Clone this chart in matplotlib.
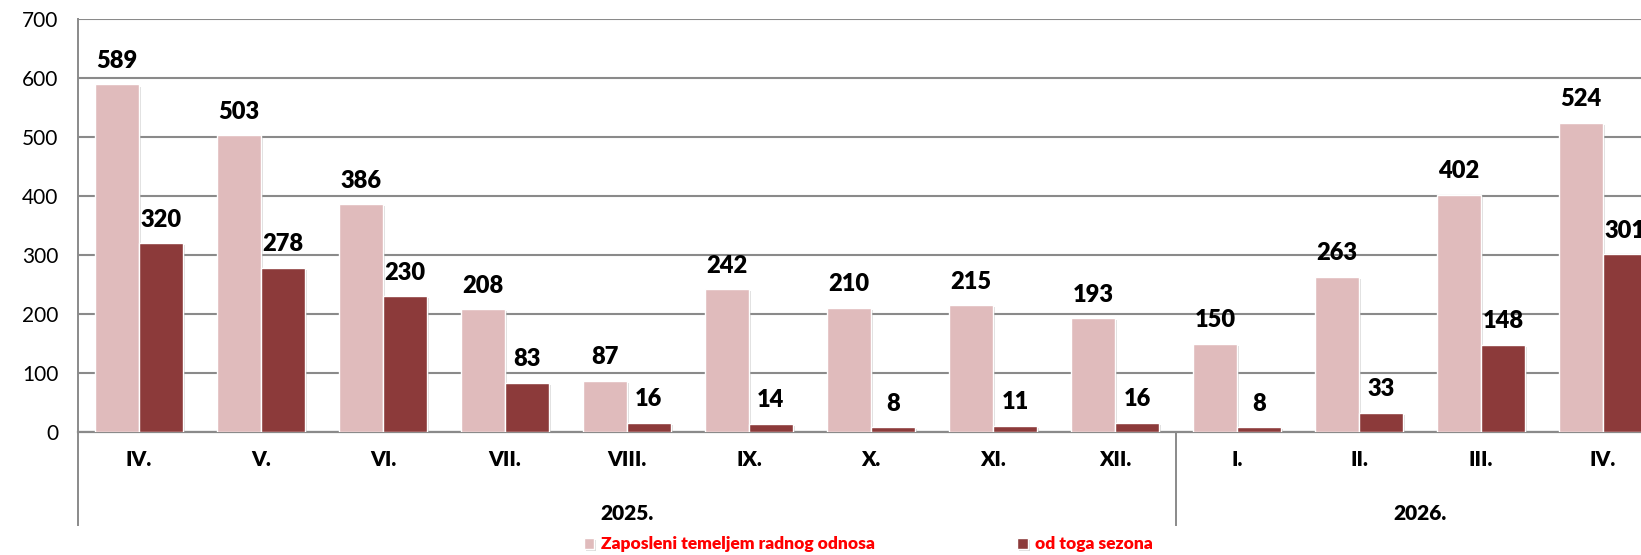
import numpy as np
import matplotlib
matplotlib.use('Agg')
import matplotlib.pyplot as plt
import matplotlib.patheffects as pe

plt.rcParams['font.family'] = ['Lato', 'DejaVu Sans']

months = ['IV.', 'V.', 'VI.', 'VII.', 'VIII.', 'IX.', 'X.', 'XI.', 'XII.',
          'I.', 'II.', 'III.', 'IV.']
years = ['2025.', '2026.']
year_counts = [9, 4]
zaposleni = [589, 503, 386, 208, 87, 242, 210, 215, 193, 150, 263, 402, 524]
sezona = [320, 278, 230, 83, 16, 14, 8, 11, 16, 8, 33, 148, 301]

light = '#E0BBBC'
dark = '#8C3A3A'

fig = plt.figure(figsize=(16.41, 5.55), dpi=100)
ax = fig.add_axes([0.0475, 0.2216, 0.9665, 0.7442])

x = np.arange(len(months))
w = 0.36
shadow = [pe.SimplePatchShadow(offset=(1.5, -1.5), shadow_rgbFace='#999999', alpha=0.35), pe.Normal()]
b1 = ax.bar(x - w / 2, zaposleni, w, color=light, edgecolor='white', linewidth=1,
            label='Zaposleni temeljem radnog odnosa', zorder=3, path_effects=shadow)
b2 = ax.bar(x + w / 2, sezona, w, color=dark, edgecolor='white', linewidth=1,
            label='od toga sezona', zorder=3, path_effects=shadow)

for bars, vals in ((b1, zaposleni), (b2, sezona)):
    for r, v in zip(bars, vals):
        ax.annotate(str(v), (r.get_x() + r.get_width() / 2, v), xytext=(0, 17),
                    textcoords='offset points', ha='center', va='center',
                    fontsize=17, fontweight='heavy', color='black', annotation_clip=False)

ax.set_xlim(-0.5, len(months) - 0.5)
ax.set_ylim(0, 700)
ax.set_yticks(range(0, 701, 100))
ax.yaxis.grid(True, color='#8a8a8a', linewidth=1.5, zorder=0)
ax.set_axisbelow(True)
ax.tick_params(axis='y', length=0, pad=14, labelsize=15)
ax.set_xticks(x, months)
ax.tick_params(axis='x', length=0, pad=13, labelsize=15)
for lab in ax.get_xticklabels():
    lab.set_fontweight('heavy')

for s in ('top', 'right'):
    ax.spines[s].set_visible(False)
ax.spines['bottom'].set_color('#8a8a8a')
ax.spines['bottom'].set_linewidth(1.6)
ax.spines['left'].set_color('#8a8a8a')
ax.spines['left'].set_linewidth(1.4)
ax.spines['left'].set_bounds(-700 * 0.225, 700)
ax.spines['left'].set_zorder(4)

# year grouping below the month labels
tr = ax.get_xaxis_transform()
start = -0.5
for yl, n in zip(years, year_counts):
    end = start + n
    ax.text((start + end) / 2, -0.1985, yl, transform=tr, ha='center', va='center',
            fontsize=15, fontweight='heavy')
    if end < len(months) - 0.5:
        ax.plot([end, end], [0, -0.225], transform=tr, color='#8a8a8a',
                linewidth=1.4, clip_on=False)
    start = end

leg = fig.legend(handles=[b1, b2], loc='center', bbox_to_anchor=(0.529, 0.019), ncol=2,
                 frameon=False, handlelength=0.6, handleheight=0.6, handletextpad=0.4,
                 columnspacing=8.2, prop={'size': 12.5, 'weight': 'heavy'})
for t in leg.get_texts():
    t.set_color('#FF0000')

fig.savefig('out.png', dpi=100)
